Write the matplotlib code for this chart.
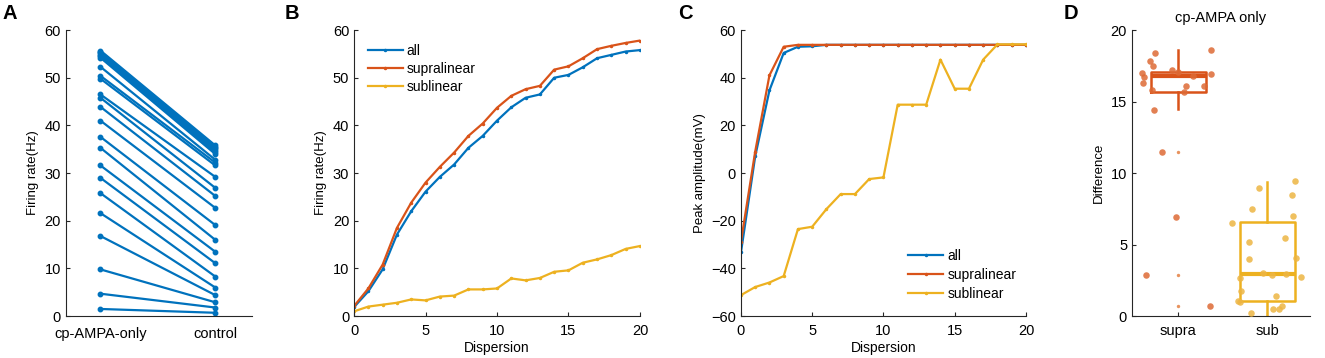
import numpy as np
import matplotlib
matplotlib.use("Agg")
import matplotlib.pyplot as plt

plt.rcParams['font.family'] = ['Liberation Sans', 'DejaVu Sans']
plt.rcParams['axes.linewidth'] = 0.8
plt.rcParams['xtick.direction'] = 'in'
plt.rcParams['ytick.direction'] = 'in'

BLUE = '#0072BD'
RED = '#D95319'
YELLOW = '#EDB120'
AXC = '#262626'

#%% data
# panel A: paired firing rates
conditions = ['cp-AMPA-only', 'control']
rate_cpampa = [55.7, 55.4, 55.1, 54.8, 54.5, 54.2, 52.3, 50.4, 49.8, 46.5, 45.8, 43.9,
               41.0, 37.6, 35.3, 31.6, 29.0, 25.8, 21.6, 16.8, 9.8, 4.7, 1.5]
rate_control = [35.8, 35.5, 35.2, 34.8, 34.4, 34.0, 32.8, 32.2, 31.6, 29.2, 26.9, 25.2,
                22.7, 19.1, 16.0, 13.5, 11.1, 8.3, 6.0, 4.4, 2.9, 1.8, 0.7]

# panel B: firing rate vs dispersion
dispersion = list(range(21))
fr_all = [1.9, 5.2, 9.8, 17.1, 22.0, 26.1, 29.2, 31.8, 35.3, 37.8, 41.0, 43.8, 45.8,
          46.5, 50.0, 50.6, 52.2, 54.1, 54.8, 55.5, 55.8]
fr_supra = [2.1, 5.8, 10.8, 18.5, 23.8, 28.0, 31.3, 34.3, 37.8, 40.4, 43.7, 46.2, 47.6,
            48.3, 51.7, 52.4, 54.1, 56.0, 56.7, 57.3, 57.8]
fr_sub = [1.0, 2.0, 2.4, 2.8, 3.5, 3.3, 4.1, 4.3, 5.6, 5.6, 5.8, 7.9, 7.5,
          8.0, 9.3, 9.6, 11.2, 11.9, 12.8, 14.1, 14.7]

# panel C: peak amplitude vs dispersion
pk_all = [-33.3, 7.0, 34.7, 50.4, 53.0, 53.2, 53.8, 53.8, 53.8, 53.8, 53.8, 53.8, 53.8,
          53.8, 53.8, 53.8, 53.8, 53.8, 53.8, 53.8, 53.8]
pk_supra = [-28.8, 9.0, 41.0, 53.0, 53.8, 53.8, 53.8, 53.8, 53.8, 53.8, 53.8, 53.8, 53.8,
            53.8, 53.8, 53.8, 53.8, 53.8, 53.8, 53.8, 53.8]
pk_sub = [-51.2, -47.8, -45.9, -43.2, -23.5, -22.5, -15.1, -8.8, -8.8, -2.5, -1.8, 28.7, 28.7,
          28.7, 47.6, 35.4, 35.4, 47.6, 54.0, 54.0, 54.0]

# panel D: differences (jittered points) and box stats
groups = ['supra', 'sub']
supra_x = [0.74, 1.37, 0.68, 0.72, 0.59, 0.61, 0.60, 0.93, 1.00, 1.37, 1.17, 0.70, 1.09,
           1.06, 1.29, 0.73, 0.82, 0.97, 0.64, 1.36]
supra_y = [18.4, 18.6, 17.85, 17.5, 17.0, 16.7, 16.3, 17.2, 17.1, 16.9, 16.8, 15.8, 16.1,
           15.7, 16.1, 14.4, 11.5, 6.9, 2.9, 0.7]
sub_x = [1.91, 2.31, 2.28, 1.83, 2.29, 1.61, 2.20, 1.80, 1.79, 2.32, 1.70, 2.21, 2.38,
         1.71, 2.10, 1.67, 1.70, 1.82, 2.07, 2.13, 2.17, 1.95, 2.05]
sub_y = [8.96, 9.42, 8.49, 7.49, 6.97, 6.5, 5.45, 5.17, 4.02, 4.05, 2.69, 2.93, 2.74,
         1.75, 1.40, 1.05, 0.98, 0.23, 0.47, 0.47, 0.70, 3.0, 2.9]
box_q1 = [15.7, 1.05]
box_med = [16.8, 2.93]
box_q3 = [17.1, 6.55]
box_lo = [14.5, 0.0]
box_hi = [18.6, 9.35]
supra_outliers = [11.5, 2.9, 0.7]

#%% figure
fig = plt.figure(figsize=(13.25, 3.58), dpi=100)
bot, hgt = 0.117, 0.799
axA = fig.add_axes([0.0498, bot, 0.1404, hgt])
axB = fig.add_axes([0.2672, bot, 0.2158, hgt])
axC = fig.add_axes([0.5592, bot, 0.2151, hgt])
axD = fig.add_axes([0.8543, bot, 0.1343, hgt])


def style(ax):
    for s in ['top', 'right']:
        ax.spines[s].set_visible(False)
    for s in ['left', 'bottom']:
        ax.spines[s].set_color(AXC)
    ax.tick_params(colors=AXC, labelsize=10.5, length=3, width=0.8)
    ax.tick_params(axis='x', pad=6)
    ax.tick_params(labelcolor='black')


# A
for a, c in zip(rate_cpampa, rate_control):
    axA.plot([1, 2], [a, c], '-o', color=BLUE, lw=1.6, ms=3.2)
axA.set_xlim(0.7, 2.32)
axA.set_ylim(0, 60)
axA.set_xticks([1, 2])
axA.set_xticklabels(conditions)
axA.set_yticks(range(0, 61, 10))
axA.set_ylabel('Firing rate(Hz)', fontsize=9.5)
style(axA)
axA.tick_params(axis='x', length=0, pad=8)

# B
axB.plot(dispersion, fr_all, '.-', color=BLUE, lw=1.6, ms=3, label='all')
axB.plot(dispersion, fr_supra, '.-', color=RED, lw=1.6, ms=3, label='supralinear')
axB.plot(dispersion, fr_sub, '.-', color=YELLOW, lw=1.6, ms=3, label='sublinear')
axB.set_xlim(0, 20)
axB.set_ylim(0, 60)
axB.set_xticks(range(0, 21, 5))
axB.set_yticks(range(0, 61, 10))
axB.set_xlabel('Dispersion', fontsize=10, labelpad=2)
axB.set_ylabel('Firing rate(Hz)', fontsize=9.5)
axB.legend(loc='upper left', frameon=False, fontsize=10, handlelength=2.5,
           handletextpad=0.3, labelspacing=0.3, borderaxespad=0.6)
style(axB)

# C
axC.plot(dispersion, pk_all, '.-', color=BLUE, lw=1.6, ms=3, label='all')
axC.plot(dispersion, pk_supra, '.-', color=RED, lw=1.6, ms=3, label='supralinear')
axC.plot(dispersion, pk_sub, '.-', color=YELLOW, lw=1.6, ms=3, label='sublinear')
axC.set_xlim(0, 20)
axC.set_ylim(-60, 60)
axC.set_xticks(range(0, 21, 5))
axC.set_yticks(range(-60, 61, 20))
axC.set_xlabel('Dispersion', fontsize=10, labelpad=2)
axC.set_ylabel('Peak amplitude(mV)', fontsize=9.5)
axC.legend(loc='lower right', frameon=False, fontsize=10, handlelength=2.5,
           handletextpad=0.3, labelspacing=0.35, borderaxespad=0.3,
           bbox_to_anchor=(1.0, 0.02))
style(axC)

# D
stats = []
for i in range(2):
    stats.append(dict(q1=box_q1[i], med=box_med[i], q3=box_q3[i],
                      whislo=box_lo[i], whishi=box_hi[i], fliers=[]))
for i, col in enumerate([RED, YELLOW]):
    axD.bxp([stats[i]], positions=[i + 1], widths=0.62, showcaps=False,
            boxprops=dict(color=col, lw=1.8),
            whiskerprops=dict(color=col, lw=1.8),
            medianprops=dict(color=col, lw=3))
axD.scatter(supra_x, supra_y, s=22, color='#DD6A35', alpha=0.85, lw=0, zorder=3)
axD.scatter(sub_x, sub_y, s=22, color='#EDB543', alpha=0.85, lw=0, zorder=3)
axD.scatter([1] * len(supra_outliers), supra_outliers, s=6, color='#E8935E',
            lw=0, zorder=3)
axD.set_xlim(0.48, 2.48)
axD.set_ylim(0, 20)
axD.set_xticks([1, 2])
axD.set_xticklabels(groups)
axD.set_yticks(range(0, 21, 5))
axD.set_ylabel('Difference', fontsize=9.5)
axD.set_title('cp-AMPA only', fontsize=10.5, pad=6)
style(axD)

# panel letters
for lab, xx in zip('ABCD', [0.002, 0.215, 0.512, 0.803]):
    fig.text(xx, 0.99, lab, fontsize=14.5, fontweight='bold', va='top')

fig.savefig('out.png', dpi=100)
